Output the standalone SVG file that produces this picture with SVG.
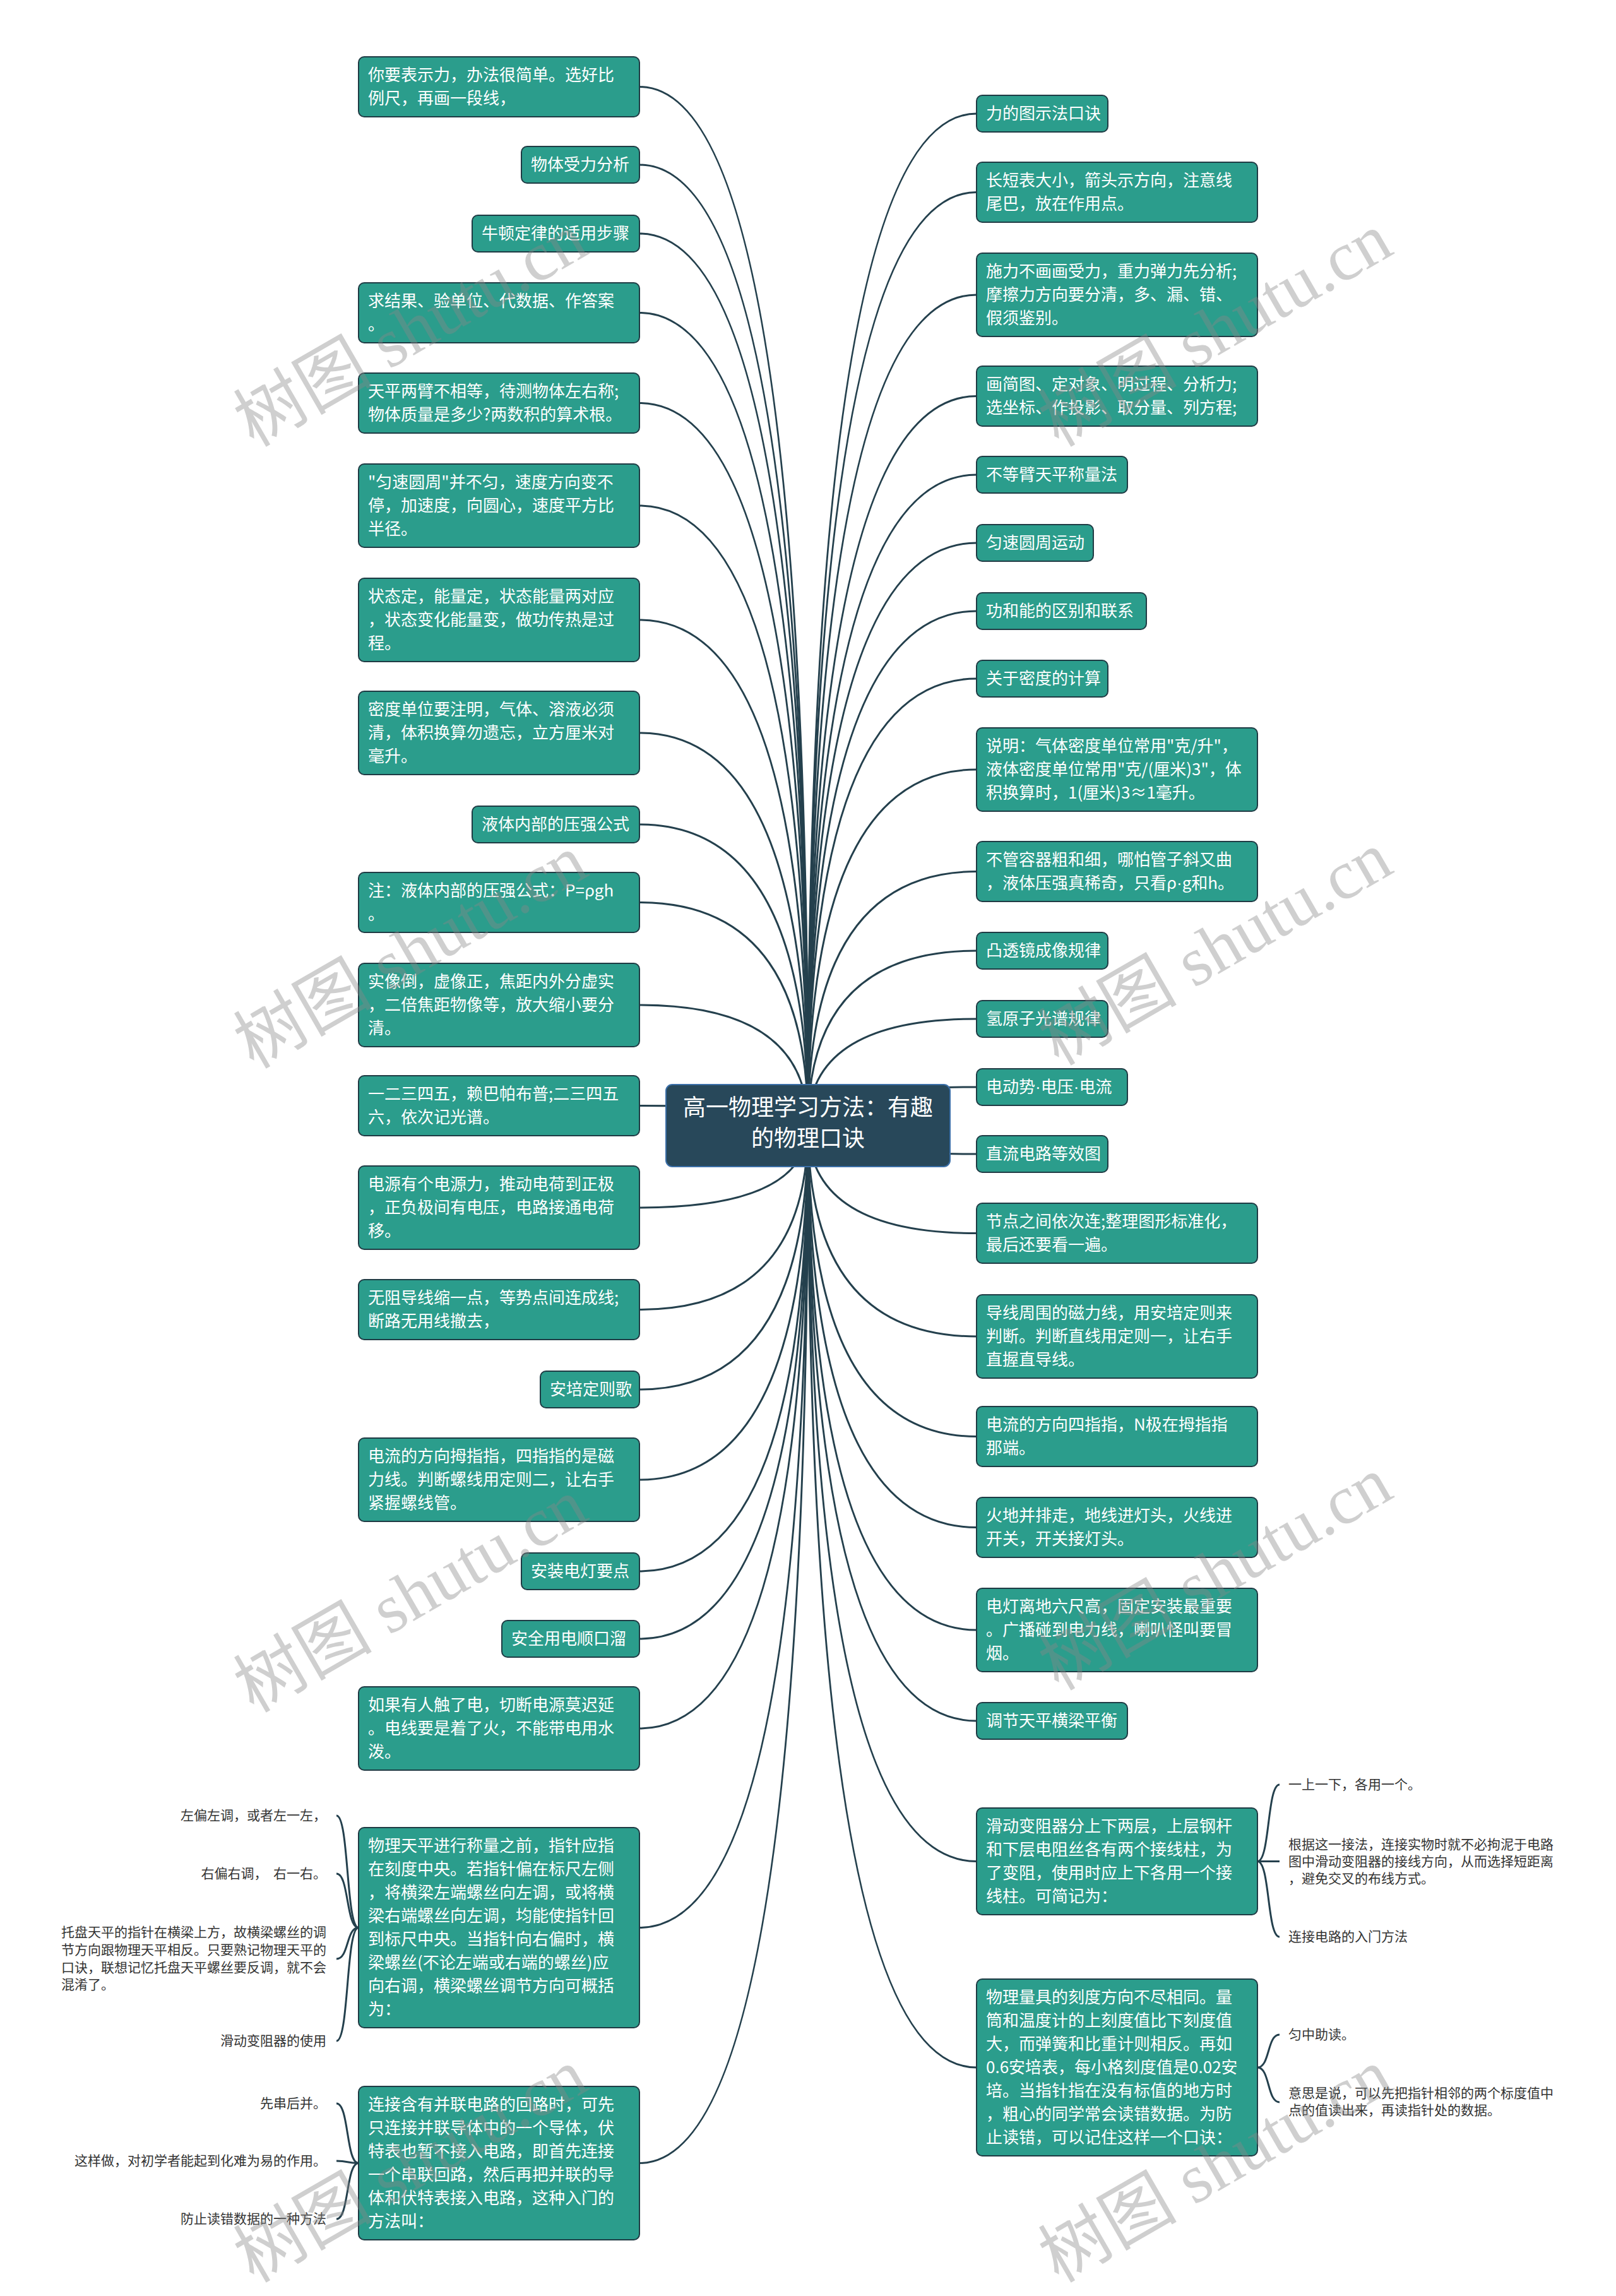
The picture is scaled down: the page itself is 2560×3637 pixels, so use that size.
<svg xmlns="http://www.w3.org/2000/svg" width="2560" height="3637" viewBox="0 0 2560 3637">
<style>
.box{fill:#2b9d8c;stroke:#1f3b44;stroke-width:2}
.t{font-family:"Noto Sans CJK SC","Microsoft YaHei",sans-serif;font-size:26px;fill:#ffffff}
.c{fill:none;stroke:#24404d;stroke-width:3}
.s{font-family:"Noto Sans CJK SC","Microsoft YaHei",sans-serif;font-size:21px;fill:#333333;white-space:pre}
.wm{font-family:"Liberation Serif","Noto Sans CJK SC",serif;font-size:110px;fill:#888888;opacity:0.4}
.dot{font-family:"Liberation Sans",sans-serif}
</style>
<rect x="0" y="0" width="2560" height="3637" fill="#ffffff"/>
<g id="connectors">
<path class="c" d="M1280 1783 Q1280 137.5 1013 137.5"/>
<path class="c" d="M1280 1783 Q1280 261 1013 261"/>
<path class="c" d="M1280 1783 Q1280 370 1013 370"/>
<path class="c" d="M1280 1783 Q1280 495.5 1013 495.5"/>
<path class="c" d="M1280 1783 Q1280 638.5 1013 638.5"/>
<path class="c" d="M1280 1783 Q1280 801 1013 801"/>
<path class="c" d="M1280 1783 Q1280 982 1013 982"/>
<path class="c" d="M1280 1783 Q1280 1161 1013 1161"/>
<path class="c" d="M1280 1783 Q1280 1306 1013 1306"/>
<path class="c" d="M1280 1783 Q1280 1429.5 1013 1429.5"/>
<path class="c" d="M1280 1783 Q1280 1592 1013 1592"/>
<path class="c" d="M1280 1783 Q1280 1751.5 1013 1751.5"/>
<path class="c" d="M1280 1783 Q1280 1913 1013 1913"/>
<path class="c" d="M1280 1783 Q1280 2074.5 1013 2074.5"/>
<path class="c" d="M1280 1783 Q1280 2201 1013 2201"/>
<path class="c" d="M1280 1783 Q1280 2344 1013 2344"/>
<path class="c" d="M1280 1783 Q1280 2489 1013 2489"/>
<path class="c" d="M1280 1783 Q1280 2596 1013 2596"/>
<path class="c" d="M1280 1783 Q1280 2738 1013 2738"/>
<path class="c" d="M1280 1783 Q1280 3053.5 1013 3053.5"/>
<path class="c" d="M1280 1783 Q1280 3426.5 1013 3426.5"/>
<path class="c" d="M1280 1783 Q1280 180 1547 180"/>
<path class="c" d="M1280 1783 Q1280 304.5 1547 304.5"/>
<path class="c" d="M1280 1783 Q1280 467 1547 467"/>
<path class="c" d="M1280 1783 Q1280 627.5 1547 627.5"/>
<path class="c" d="M1280 1783 Q1280 752 1547 752"/>
<path class="c" d="M1280 1783 Q1280 860 1547 860"/>
<path class="c" d="M1280 1783 Q1280 968 1547 968"/>
<path class="c" d="M1280 1783 Q1280 1075 1547 1075"/>
<path class="c" d="M1280 1783 Q1280 1219 1547 1219"/>
<path class="c" d="M1280 1783 Q1280 1380.5 1547 1380.5"/>
<path class="c" d="M1280 1783 Q1280 1506 1547 1506"/>
<path class="c" d="M1280 1783 Q1280 1614 1547 1614"/>
<path class="c" d="M1280 1783 Q1280 1722 1547 1722"/>
<path class="c" d="M1280 1783 Q1280 1828 1547 1828"/>
<path class="c" d="M1280 1783 Q1280 1953.5 1547 1953.5"/>
<path class="c" d="M1280 1783 Q1280 2117 1547 2117"/>
<path class="c" d="M1280 1783 Q1280 2275.5 1547 2275.5"/>
<path class="c" d="M1280 1783 Q1280 2419.5 1547 2419.5"/>
<path class="c" d="M1280 1783 Q1280 2582 1547 2582"/>
<path class="c" d="M1280 1783 Q1280 2726 1547 2726"/>
<path class="c" d="M1280 1783 Q1280 2948.5 1547 2948.5"/>
<path class="c" d="M1280 1783 Q1280 3275 1547 3275"/>
<path class="c" d="M568 3053.5 C548 3053.5 553 2876 533 2876"/>
<path class="c" d="M568 3053.5 C548 3053.5 553 2968 533 2968"/>
<path class="c" d="M568 3053.5 C548 3053.5 553 3103 533 3103"/>
<path class="c" d="M568 3053.5 C548 3053.5 553 3233 533 3233"/>
<path class="c" d="M568 3426.5 C548 3426.5 553 3332 533 3332"/>
<path class="c" d="M568 3426.5 C548 3426.5 553 3423 533 3423"/>
<path class="c" d="M568 3426.5 C548 3426.5 553 3515 533 3515"/>
<path class="c" d="M1992 2948.5 C2012 2948.5 2007 2827 2027 2827"/>
<path class="c" d="M1992 2948.5 C2012 2948.5 2007 2948.5 2027 2948.5"/>
<path class="c" d="M1992 2948.5 C2012 2948.5 2007 3068 2027 3068"/>
<path class="c" d="M1992 3275 C2012 3275 2007 3223 2027 3223"/>
<path class="c" d="M1992 3275 C2012 3275 2007 3330 2027 3330"/>
</g>
<g id="root">
<rect x="1055" y="1718" width="450" height="130" rx="10" fill="#28485a" stroke="#3b6fa8" stroke-width="2"/>
<text x="1280" font-family="Noto Sans CJK SC, sans-serif" font-size="36" fill="#ffffff" text-anchor="middle"><tspan x="1280" y="1767">高一物理学习方法：有趣</tspan><tspan x="1280" y="1816">的物理口诀</tspan></text>
</g>
<g id="L1"><rect class="box" x="568" y="90" width="445" height="95" rx="9"/><text class="t"><tspan x="583" y="128">你要表示力，办法很简单。选好比</tspan><tspan x="583" y="165">例尺，再画一段线，</tspan></text></g>
<g id="L2"><rect class="box" x="826" y="232" width="187" height="58" rx="9"/><text class="t" x="841" y="270">物体受力分析</text></g>
<g id="L3"><rect class="box" x="748" y="341" width="265" height="58" rx="9"/><text class="t" x="763" y="379">牛顿定律的适用步骤</text></g>
<g id="L4"><rect class="box" x="568" y="448" width="445" height="95" rx="9"/><text class="t"><tspan x="583" y="486">求结果、验单位、代数据、作答案</tspan><tspan x="583" y="523">。</tspan></text></g>
<g id="L5"><rect class="box" x="568" y="591" width="445" height="95" rx="9"/><text class="t"><tspan x="583" y="629">天平两臂不相等，待测物体左右称;</tspan><tspan x="583" y="666">物体质量是多少?两数积的算术根。</tspan></text></g>
<g id="L6"><rect class="box" x="568" y="735" width="445" height="132" rx="9"/><text class="t"><tspan x="583" y="773">"匀速圆周"并不匀，速度方向变不</tspan><tspan x="583" y="810">停，加速度，向圆心，速度平方比</tspan><tspan x="583" y="847">半径。</tspan></text></g>
<g id="L7"><rect class="box" x="568" y="916" width="445" height="132" rx="9"/><text class="t"><tspan x="583" y="954">状态定，能量定，状态能量两对应</tspan><tspan x="583" y="991">，状态变化能量变，做功传热是过</tspan><tspan x="583" y="1028">程。</tspan></text></g>
<g id="L8"><rect class="box" x="568" y="1095" width="445" height="132" rx="9"/><text class="t"><tspan x="583" y="1133">密度单位要注明，气体、溶液必须</tspan><tspan x="583" y="1170">清，体积换算勿遗忘，立方厘米对</tspan><tspan x="583" y="1207">毫升。</tspan></text></g>
<g id="L9"><rect class="box" x="748" y="1277" width="265" height="58" rx="9"/><text class="t" x="763" y="1315">液体内部的压强公式</text></g>
<g id="L10"><rect class="box" x="568" y="1382" width="445" height="95" rx="9"/><text class="t"><tspan x="583" y="1420">注：液体内部的压强公式：P=ρgh</tspan><tspan x="583" y="1457">。</tspan></text></g>
<g id="L11"><rect class="box" x="568" y="1526" width="445" height="132" rx="9"/><text class="t"><tspan x="583" y="1564">实像倒，虚像正，焦距内外分虚实</tspan><tspan x="583" y="1601">，二倍焦距物像等，放大缩小要分</tspan><tspan x="583" y="1638">清。</tspan></text></g>
<g id="L12"><rect class="box" x="568" y="1704" width="445" height="95" rx="9"/><text class="t"><tspan x="583" y="1742">一二三四五，赖巴帕布普;二三四五</tspan><tspan x="583" y="1779">六，依次记光谱。</tspan></text></g>
<g id="L13"><rect class="box" x="568" y="1847" width="445" height="132" rx="9"/><text class="t"><tspan x="583" y="1885">电源有个电源力，推动电荷到正极</tspan><tspan x="583" y="1922">，正负极间有电压，电路接通电荷</tspan><tspan x="583" y="1959">移。</tspan></text></g>
<g id="L14"><rect class="box" x="568" y="2027" width="445" height="95" rx="9"/><text class="t"><tspan x="583" y="2065">无阻导线缩一点，等势点间连成线;</tspan><tspan x="583" y="2102">断路无用线撤去，</tspan></text></g>
<g id="L15"><rect class="box" x="856" y="2172" width="157" height="58" rx="9"/><text class="t" x="871" y="2210">安培定则歌</text></g>
<g id="L16"><rect class="box" x="568" y="2278" width="445" height="132" rx="9"/><text class="t"><tspan x="583" y="2316">电流的方向拇指指，四指指的是磁</tspan><tspan x="583" y="2353">力线。判断螺线用定则二，让右手</tspan><tspan x="583" y="2390">紧握螺线管。</tspan></text></g>
<g id="L17"><rect class="box" x="826" y="2460" width="187" height="58" rx="9"/><text class="t" x="841" y="2498">安装电灯要点</text></g>
<g id="L18"><rect class="box" x="795" y="2567" width="218" height="58" rx="9"/><text class="t" x="810" y="2605">安全用电顺口溜</text></g>
<g id="L19"><rect class="box" x="568" y="2672" width="445" height="132" rx="9"/><text class="t"><tspan x="583" y="2710">如果有人触了电，切断电源莫迟延</tspan><tspan x="583" y="2747">。电线要是着了火，不能带电用水</tspan><tspan x="583" y="2784">泼。</tspan></text></g>
<g id="L20"><rect class="box" x="568" y="2895" width="445" height="317" rx="9"/><text class="t"><tspan x="583" y="2933">物理天平进行称量之前，指针应指</tspan><tspan x="583" y="2970">在刻度中央。若指针偏在标尺左侧</tspan><tspan x="583" y="3007">，将横梁左端螺丝向左调，或将横</tspan><tspan x="583" y="3044">梁右端螺丝向左调，均能使指针回</tspan><tspan x="583" y="3081">到标尺中央。当指针向右偏时，横</tspan><tspan x="583" y="3118">梁螺丝(不论左端或右端的螺丝)应</tspan><tspan x="583" y="3155">向右调，横梁螺丝调节方向可概括</tspan><tspan x="583" y="3192">为：</tspan></text></g>
<g id="L21"><rect class="box" x="568" y="3305" width="445" height="243" rx="9"/><text class="t"><tspan x="583" y="3343">连接含有并联电路的回路时，可先</tspan><tspan x="583" y="3380">只连接并联导体中的一个导体，伏</tspan><tspan x="583" y="3417">特表也暂不接入电路，即首先连接</tspan><tspan x="583" y="3454">一个串联回路，然后再把并联的导</tspan><tspan x="583" y="3491">体和伏特表接入电路，这种入门的</tspan><tspan x="583" y="3528">方法叫：</tspan></text></g>
<g id="R1"><rect class="box" x="1547" y="151" width="208" height="58" rx="9"/><text class="t" x="1562" y="189">力的图示法口诀</text></g>
<g id="R2"><rect class="box" x="1547" y="257" width="445" height="95" rx="9"/><text class="t"><tspan x="1562" y="295">长短表大小，箭头示方向，注意线</tspan><tspan x="1562" y="332">尾巴，放在作用点。</tspan></text></g>
<g id="R3"><rect class="box" x="1547" y="401" width="445" height="132" rx="9"/><text class="t"><tspan x="1562" y="439">施力不画画受力，重力弹力先分析;</tspan><tspan x="1562" y="476">摩擦力方向要分清，多、漏、错、</tspan><tspan x="1562" y="513">假须鉴别。</tspan></text></g>
<g id="R4"><rect class="box" x="1547" y="580" width="445" height="95" rx="9"/><text class="t"><tspan x="1562" y="618">画简图、定对象、明过程、分析力;</tspan><tspan x="1562" y="655">选坐标、作投影、取分量、列方程;</tspan></text></g>
<g id="R5"><rect class="box" x="1547" y="723" width="239" height="58" rx="9"/><text class="t" x="1562" y="761">不等臂天平称量法</text></g>
<g id="R6"><rect class="box" x="1547" y="831" width="185" height="58" rx="9"/><text class="t" x="1562" y="869">匀速圆周运动</text></g>
<g id="R7"><rect class="box" x="1547" y="939" width="269" height="58" rx="9"/><text class="t" x="1562" y="977">功和能的区别和联系</text></g>
<g id="R8"><rect class="box" x="1547" y="1046" width="208" height="58" rx="9"/><text class="t" x="1562" y="1084">关于密度的计算</text></g>
<g id="R9"><rect class="box" x="1547" y="1153" width="445" height="132" rx="9"/><text class="t"><tspan x="1562" y="1191">说明：气体密度单位常用"克/升"，</tspan><tspan x="1562" y="1228">液体密度单位常用"克/(厘米)3"，体</tspan><tspan x="1562" y="1265">积换算时，1(厘米)3≈1毫升。</tspan></text></g>
<g id="R10"><rect class="box" x="1547" y="1333" width="445" height="95" rx="9"/><text class="t"><tspan x="1562" y="1371">不管容器粗和细，哪怕管子斜又曲</tspan><tspan x="1562" y="1408">，液体压强真稀奇，只看ρ<tspan class="dot">·</tspan>g和h。</tspan></text></g>
<g id="R11"><rect class="box" x="1547" y="1477" width="208" height="58" rx="9"/><text class="t" x="1562" y="1515">凸透镜成像规律</text></g>
<g id="R12"><rect class="box" x="1547" y="1585" width="208" height="58" rx="9"/><text class="t" x="1562" y="1623">氢原子光谱规律</text></g>
<g id="R13"><rect class="box" x="1547" y="1693" width="239" height="58" rx="9"/><text class="t" x="1562" y="1731">电动势<tspan class="dot">·</tspan>电压<tspan class="dot">·</tspan>电流</text></g>
<g id="R14"><rect class="box" x="1547" y="1799" width="208" height="58" rx="9"/><text class="t" x="1562" y="1837">直流电路等效图</text></g>
<g id="R15"><rect class="box" x="1547" y="1906" width="445" height="95" rx="9"/><text class="t"><tspan x="1562" y="1944">节点之间依次连;整理图形标准化，</tspan><tspan x="1562" y="1981">最后还要看一遍。</tspan></text></g>
<g id="R16"><rect class="box" x="1547" y="2051" width="445" height="132" rx="9"/><text class="t"><tspan x="1562" y="2089">导线周围的磁力线，用安培定则来</tspan><tspan x="1562" y="2126">判断。判断直线用定则一，让右手</tspan><tspan x="1562" y="2163">直握直导线。</tspan></text></g>
<g id="R17"><rect class="box" x="1547" y="2228" width="445" height="95" rx="9"/><text class="t"><tspan x="1562" y="2266">电流的方向四指指，N极在拇指指</tspan><tspan x="1562" y="2303">那端。</tspan></text></g>
<g id="R18"><rect class="box" x="1547" y="2372" width="445" height="95" rx="9"/><text class="t"><tspan x="1562" y="2410">火地并排走，地线进灯头，火线进</tspan><tspan x="1562" y="2447">开关，开关接灯头。</tspan></text></g>
<g id="R19"><rect class="box" x="1547" y="2516" width="445" height="132" rx="9"/><text class="t"><tspan x="1562" y="2554">电灯离地六尺高，固定安装最重要</tspan><tspan x="1562" y="2591">。广播碰到电力线，喇叭怪叫要冒</tspan><tspan x="1562" y="2628">烟。</tspan></text></g>
<g id="R20"><rect class="box" x="1547" y="2697" width="239" height="58" rx="9"/><text class="t" x="1562" y="2735">调节天平横梁平衡</text></g>
<g id="R21"><rect class="box" x="1547" y="2864" width="445" height="169" rx="9"/><text class="t"><tspan x="1562" y="2902">滑动变阻器分上下两层，上层钢杆</tspan><tspan x="1562" y="2939">和下层电阻丝各有两个接线柱，为</tspan><tspan x="1562" y="2976">了变阻，使用时应上下各用一个接</tspan><tspan x="1562" y="3013">线柱。可简记为：</tspan></text></g>
<g id="R22"><rect class="box" x="1547" y="3135" width="445" height="280" rx="9"/><text class="t"><tspan x="1562" y="3173">物理量具的刻度方向不尽相同。量</tspan><tspan x="1562" y="3210">筒和温度计的上刻度值比下刻度值</tspan><tspan x="1562" y="3247">大，而弹簧和比重计则相反。再如</tspan><tspan x="1562" y="3284">0.6安培表，每小格刻度值是0.02安</tspan><tspan x="1562" y="3321">培。当指针指在没有标值的地方时</tspan><tspan x="1562" y="3358">，粗心的同学常会读错数据。为防</tspan><tspan x="1562" y="3395">止读错，可以记住这样一个口诀：</tspan></text></g>
<g id="L20a"><text class="s" x="517" y="2883" text-anchor="end">左偏左调，或者左一左，</text></g>
<g id="L20b"><text class="s" x="517" y="2975" text-anchor="end">右偏右调，  右一右。</text></g>
<g id="L20c"><text class="s"><tspan x="97" y="3068">托盘天平的指针在横梁上方，故横梁螺丝的调</tspan><tspan x="97" y="3096">节方向跟物理天平相反。只要熟记物理天平的</tspan><tspan x="97" y="3124">口诀，联想记忆托盘天平螺丝要反调，就不会</tspan><tspan x="97" y="3151">混淆了。</tspan></text></g>
<g id="L20d"><text class="s" x="517" y="3240" text-anchor="end">滑动变阻器的使用</text></g>
<g id="L21a"><text class="s" x="517" y="3339" text-anchor="end">先串后并。</text></g>
<g id="L21b"><text class="s" x="517" y="3430" text-anchor="end">这样做，对初学者能起到化难为易的作用。</text></g>
<g id="L21c"><text class="s" x="517" y="3522" text-anchor="end">防止读错数据的一种方法</text></g>
<g id="R21a"><text class="s" x="2041" y="2834">一上一下，各用一个。</text></g>
<g id="R21b"><text class="s"><tspan x="2041" y="2929">根据这一接法，连接实物时就不必拘泥于电路</tspan><tspan x="2041" y="2956">图中滑动变阻器的接线方向，从而选择短距离</tspan><tspan x="2041" y="2983">，避免交叉的布线方式。</tspan></text></g>
<g id="R21c"><text class="s" x="2041" y="3075">连接电路的入门方法</text></g>
<g id="R22a"><text class="s" x="2041" y="3230">匀中助读。</text></g>
<g id="R22b"><text class="s"><tspan x="2041" y="3323">意思是说，可以先把指针相邻的两个标度值中</tspan><tspan x="2041" y="3350">点的值读出来，再读指针处的数据。</tspan></text></g>
<g id="watermarks">
<text class="wm" x="650" y="560" text-anchor="middle" transform="rotate(-30 650 522)">树图 shutu.cn</text>
<text class="wm" x="650" y="1545" text-anchor="middle" transform="rotate(-30 650 1507)">树图 shutu.cn</text>
<text class="wm" x="650" y="2565" text-anchor="middle" transform="rotate(-30 650 2527)">树图 shutu.cn</text>
<text class="wm" x="650" y="3468" text-anchor="middle" transform="rotate(-30 650 3430)">树图 shutu.cn</text>
<text class="wm" x="1925" y="560" text-anchor="middle" transform="rotate(-30 1925 522)">树图 shutu.cn</text>
<text class="wm" x="1925" y="1540" text-anchor="middle" transform="rotate(-30 1925 1502)">树图 shutu.cn</text>
<text class="wm" x="1925" y="2530" text-anchor="middle" transform="rotate(-30 1925 2492)">树图 shutu.cn</text>
<text class="wm" x="1925" y="3468" text-anchor="middle" transform="rotate(-30 1925 3430)">树图 shutu.cn</text>
</g>
</svg>
